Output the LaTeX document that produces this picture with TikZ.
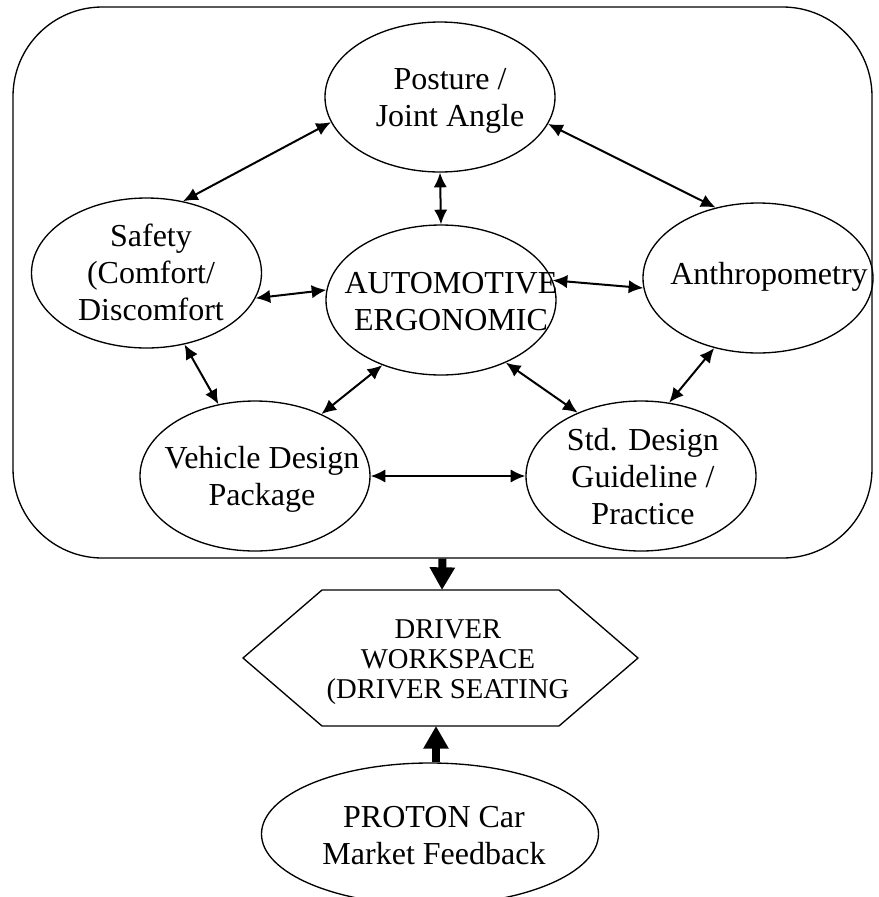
\documentclass[tikz,border=0pt]{standalone}
\usepackage{fontspec}
\setmainfont{Liberation Serif}
\usetikzlibrary{arrows.meta, shapes.geometric}

\begin{document}
\begin{tikzpicture}[x=0.75pt,y=-0.75pt,
  bubble/.style={draw,ellipse,line width=1pt,minimum width=172.5pt,minimum height=112.5pt,inner sep=0pt},
  txt/.style={align=center,inner sep=0pt,font=\fontsize{24}{27.75}\selectfont},
  link/.style={line width=1.5pt,{Latex[length=11pt,width=10pt]}-{Latex[length=11pt,width=10pt]}},
  fat/.style={line width=6pt,-{Triangle[length=17pt,width=18pt]}}]
\clip (0,0) rectangle (879,897);
% Frame round the ergonomic factors
\node[draw,line width=1pt,rounded corners=67pt,minimum width=644.25pt,minimum height=413.25pt] (frame) at (442.5,282.5) {};
% The six ellipses
\node[bubble] (post) at (440,97) {};
\node[txt] (postT) at (450,101) {Posture /\\Joint Angle};
\node[bubble] (safe) at (146.5,273) {};
\node[txt] (safeT) at (151,272) {Safety\\(Comfort/\\Discomfort};
\node[bubble] (anth) at (758,278) {};
\node[txt] (anthT) at (769,277) {Anthropometry};
\node[bubble] (auto) at (441,300) {};
\node[txt] (autoT) at (451,302) {AUTOMOTIVE\\ERGONOMIC};
\node[bubble] (veh) at (255,476) {};
\node[txt] (vehT) at (262,479) {Vehicle Design\\Package};
\node[bubble] (std) at (641,476) {};
\node[txt] (stdT) at (643,477) {Std. Design\\Guideline /\\Practice};
% Links between the factors
\draw[link] (post.193) -- (safe.63);
\draw[link] (post.346) -- (anth.121);
\draw[link] (post.south) -- (auto.north);
\draw[link] (safe.347) -- (auto.175);
\draw[link] (auto.10) -- (anth.185);
\draw[link] (safe.298) -- (veh.117);
\draw[link] (auto.228) -- (veh.43);
\draw[link] (auto.316) -- (std.135);
\draw[link] (anth.238) -- (std.69);
\draw[link] (veh.east) -- (std.west);
% Driver workspace hexagon
\coordinate (hexT) at (442,590);
\coordinate (hexB) at (436,726);
\draw[line width=1pt] (243,658) -- (322,590) -- (559,590) -- (638,658) -- (559,726) -- (322,726) -- cycle;
\node[align=center,inner sep=0pt,font=\fontsize{21.5}{22.5}\selectfont] (drv) at (448,662) {DRIVER\\WORKSPACE\\(DRIVER SEATING};
% Market feedback
\node[draw,ellipse,line width=1pt,minimum width=252.75pt,minimum height=106.5pt,inner sep=0pt] (prot) at (430,834) {};
\node[txt] (protT) at (434,836) {PROTON Car\\Market Feedback};
% Thick arrows
\draw[fat] (frame.south) -- (hexT);
\draw[fat] (hexB |- prot.north) -- (hexB);
\end{tikzpicture}
\end{document}
